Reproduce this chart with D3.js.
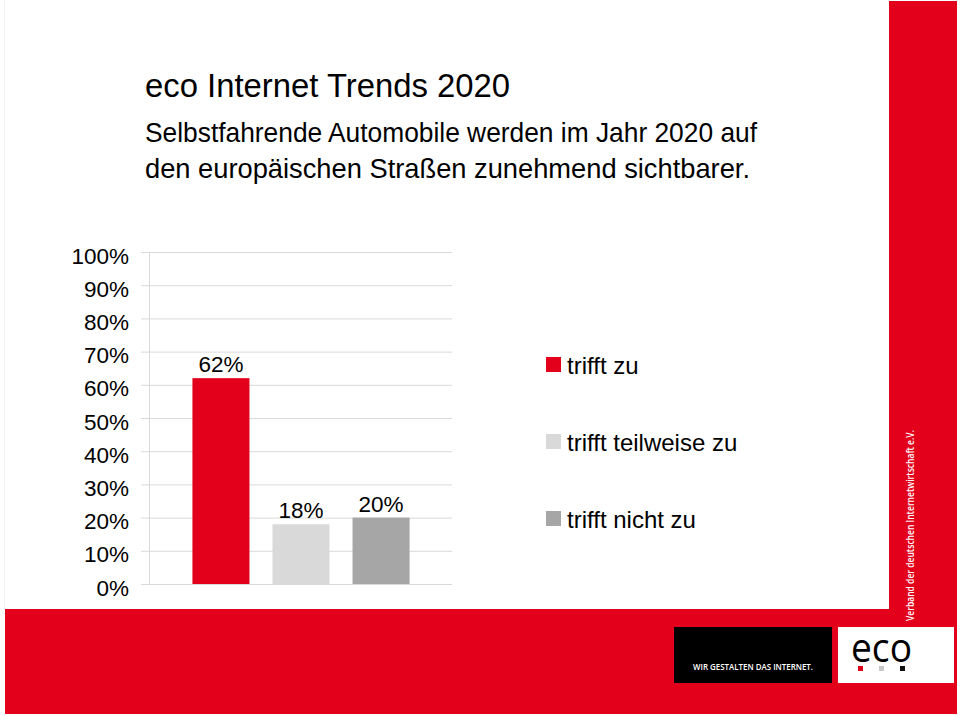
<!DOCTYPE html>
<html>
<head>
<meta charset="utf-8">
<script src="https://cdn.jsdelivr.net/npm/d3@7"></script>
<style>
  html, body { margin: 0; padding: 0; background: #fff; }
  svg { display: block; }
  text { font-family: "Liberation Sans", Arial, Helvetica, sans-serif; }
</style>
</head>
<body>
<svg id="chart" width="960" height="716"></svg>
<script>
// ---- data ----
const title = "eco Internet Trends 2020";
const subtitleLines = [
  "Selbstfahrende Automobile werden im Jahr 2020 auf",
  "den europäischen Straßen zunehmend sichtbarer."
];
const categories = ["trifft zu", "trifft teilweise zu", "trifft nicht zu"];
const values = [62, 18, 20];
const colors = ["#E2001A", "#D9D9D9", "#A6A6A6"];
const yTicks = [0, 10, 20, 30, 40, 50, 60, 70, 80, 90, 100];
const sideText = "Verband der deutschen Internetwirtschaft e.V.";
const claim = "WIR GESTALTEN DAS INTERNET.";
const logoDots = ["#E2001A", "#C8C8C8", "#111111"];

const red = "#E2001A";
const svg = d3.select("#chart");

// ---- slide frame ----
svg.append("line").attr("x1", 4.5).attr("x2", 4.5).attr("y1", 0).attr("y2", 608)
  .attr("stroke", "#f0f0f0").attr("stroke-width", 1);
svg.append("rect").attr("x", 889).attr("y", 1).attr("width", 68).attr("height", 610).attr("fill", red);
svg.append("rect").attr("x", 5).attr("y", 609).attr("width", 952).attr("height", 105).attr("fill", red);
svg.append("rect").attr("x", 674).attr("y", 627).attr("width", 158).attr("height", 56).attr("fill", "#000");
svg.append("rect").attr("x", 838).attr("y", 627).attr("width", 116).attr("height", 56).attr("fill", "#fff");

svg.append("text")
  .attr("transform", "translate(914,621) rotate(-90)")
  .attr("fill", "#fff")
  .attr("font-weight", 600)
  .attr("font-size", 11.5)
  .attr("textLength", 191)
  .attr("lengthAdjust", "spacingAndGlyphs")
  .style("font-family", "'Open Sans', sans-serif")
  .text(sideText);

svg.append("text")
  .attr("x", 693).attr("y", 670)
  .attr("fill", "#fff")
  .attr("font-weight", 600)
  .attr("font-size", 8.5)
  .attr("textLength", 120)
  .attr("lengthAdjust", "spacingAndGlyphs")
  .style("font-family", "'Open Sans', sans-serif")
  .text(claim);

svg.append("text")
  .attr("x", 851).attr("y", 662)
  .attr("fill", "#000")
  .attr("font-size", 40)
  .attr("textLength", 61)
  .attr("lengthAdjust", "spacingAndGlyphs")
  .style("font-family", "'Open Sans', sans-serif")
  .text("eco");

svg.selectAll("rect.dot").data(logoDots).enter().append("rect")
  .attr("class", "dot")
  .attr("x", (d, i) => 858 + i * 21)
  .attr("y", 666)
  .attr("width", 5).attr("height", 5)
  .attr("fill", d => d);

// ---- titles ----
svg.append("text").attr("x", 145).attr("y", 97)
  .attr("font-size", 33).attr("fill", "#000")
  .attr("textLength", 365).attr("lengthAdjust", "spacingAndGlyphs")
  .text(title);
const subLen = [612, 605];
svg.selectAll("text.sub").data(subtitleLines).enter().append("text")
  .attr("class", "sub")
  .attr("x", 145).attr("y", (d, i) => 142 + i * 36)
  .attr("font-size", 27.5).attr("fill", "#000")
  .attr("textLength", (d, i) => subLen[i]).attr("lengthAdjust", "spacingAndGlyphs")
  .text(d => d);

// ---- chart ----
const axisX = 149, gridRight = 452;
const y = d3.scaleLinear().domain([0, 100]).range([584, 252]);
const x = d3.scaleBand().domain(categories).range([axisX + 1, gridRight])
  .paddingInner(0.2875).paddingOuter(0.53);

// gridlines
const grid = svg.append("g").attr("transform", `translate(${axisX},0)`)
  .call(d3.axisLeft(y).tickValues(yTicks).tickSize(-(gridRight - axisX)).tickFormat(""));
grid.select(".domain").remove();
grid.selectAll(".tick line").attr("stroke", "#D9D9D9");

// tick marks and labels
const ax = svg.append("g").attr("transform", `translate(${axisX},0)`)
  .call(d3.axisLeft(y).tickValues(yTicks).tickSize(8).tickPadding(12).tickFormat(d => d + "%"));
ax.select(".domain").attr("stroke", "#D9D9D9");
ax.selectAll(".tick line").attr("stroke", "#D9D9D9");
ax.selectAll(".tick text")
  .attr("dy", null).attr("y", 11)
  .attr("font-size", 22.5)
  .attr("fill", "#000")
  .style("font-family", "'Liberation Sans', Arial, sans-serif");

// bars
svg.selectAll("rect.bar").data(values).enter().append("rect")
  .attr("class", "bar")
  .attr("x", (d, i) => x(categories[i]))
  .attr("y", d => y(d))
  .attr("width", x.bandwidth())
  .attr("height", d => y(0) - y(d))
  .attr("fill", (d, i) => colors[i]);

svg.selectAll("text.val").data(values).enter().append("text")
  .attr("class", "val")
  .attr("x", (d, i) => x(categories[i]) + x.bandwidth() / 2)
  .attr("y", d => y(d) - 6)
  .attr("text-anchor", "middle")
  .attr("font-size", 22.5)
  .attr("fill", "#000")
  .text(d => d + "%");

// legend
const leg = svg.selectAll("g.leg").data(categories).enter().append("g")
  .attr("class", "leg")
  .attr("transform", (d, i) => `translate(546,${357 + i * 77})`);
leg.append("rect").attr("width", 15).attr("height", 15).attr("fill", (d, i) => colors[i]);
leg.append("text").attr("x", 21).attr("y", 16.5)
  .attr("font-size", 24).attr("fill", "#000").text(d => d);
</script>
</body>
</html>
